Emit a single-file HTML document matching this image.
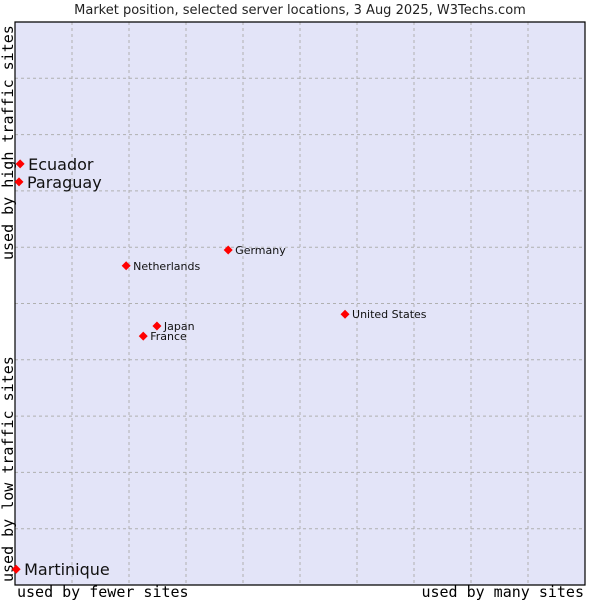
<!DOCTYPE html>
<html><head><meta charset="utf-8"><style>
body{margin:0;background:#fff;}
svg text{font-family:"DejaVu Sans","Liberation Sans",sans-serif;}
.mono{font-family:"DejaVu Sans Mono","Liberation Mono",monospace !important;}
</style></head><body>
<svg id="chart" width="600" height="600">
<text x="300" y="14" text-anchor="middle" font-size="13" fill="#222">Market position, selected server locations, 3 Aug 2025, W3Techs.com</text>
<rect x="15" y="22" width="570" height="563" fill="#e3e4f8"/>
<g id="grid"></g>
<path d="M15 22H585V585H15Z" fill="none" stroke="#000" stroke-width="1.2"/>
<text class="mono" x="0" y="0" transform="translate(13,260) rotate(-90)" font-size="15" fill="#000">used by high traffic sites</text>
<text class="mono" x="0" y="0" transform="translate(13,582) rotate(-90)" font-size="15" fill="#000">used by low traffic sites</text>
<text class="mono" x="17" y="597" font-size="15" fill="#000">used by fewer sites</text>
<text class="mono" x="584" y="597" text-anchor="end" font-size="15" fill="#000">used by many sites</text>
<g id="points"></g>
</svg>
<script>
const names=["Ecuador","Paraguay","Netherlands","Germany","United States","Japan","France","Martinique"];
const xVals=[0.9,0.7,19.5,37.4,57.9,24.9,22.5,0.2];
const yVals=[74.8,71.6,56.7,59.5,48.1,46.0,44.2,2.8];
const bigLabel=[true,true,false,false,false,false,false,true];
const ns="http://www.w3.org/2000/svg";
const X=v=>15+v/100*570, Y=v=>585-v/100*563;
const grid=document.getElementById('grid');
for(let i=1;i<10;i++){
  const l=document.createElementNS(ns,'line');
  l.setAttribute('x1',X(i*10));l.setAttribute('x2',X(i*10));l.setAttribute('y1',22);l.setAttribute('y2',585);
  l.setAttribute('stroke','#b0b0b0');l.setAttribute('stroke-dasharray','3,3');
  
  
  grid.appendChild(l);
  const h=document.createElementNS(ns,'line');
  h.setAttribute('y1',Y(i*10));h.setAttribute('y2',Y(i*10));h.setAttribute('x1',15);h.setAttribute('x2',585);
  h.setAttribute('stroke','#b0b0b0');h.setAttribute('stroke-dasharray','3,3');
  
  
  grid.appendChild(h);
}
const pts=document.getElementById('points');
names.forEach((n,i)=>{
  const cx=X(xVals[i]),cy=Y(yVals[i]);
  const d=document.createElementNS(ns,'path');
  d.setAttribute('d',`M${cx-4.5} ${cy}L${cx} ${cy-4.5}L${cx+4.5} ${cy}L${cx} ${cy+4.5}Z`);
  d.setAttribute('fill','#ff0000');
  
  
  pts.appendChild(d);
  const t=document.createElementNS(ns,'text');
  t.textContent=n;
  t.setAttribute('x',cx+(bigLabel[i]?8:7));
  t.setAttribute('y',cy+(bigLabel[i]?6:4));
  t.setAttribute('font-size',bigLabel[i]?16:11);
  t.setAttribute('fill','#111');
  
  
  pts.appendChild(t);
});
</script>
</body></html>
